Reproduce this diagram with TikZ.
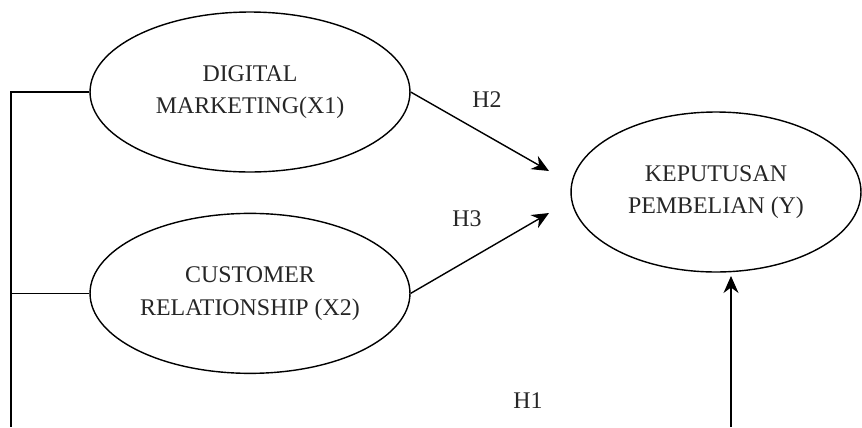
\documentclass[tikz,border=0pt]{standalone}
\usepackage{fontspec}
\setmainfont{Liberation Serif}
\usetikzlibrary{positioning,shapes,arrows.meta}

\begin{document}
\begin{tikzpicture}[x=0.02cm, y=-0.02cm, line width=0.8pt,
  var/.style={draw, ellipse, inner sep=0pt, minimum width=6.4cm, minimum height=3.2cm, align=center, text=black!85, font=\fontsize{13.6}{18.6}\selectfont},
  hyp/.style={text=black!85, font=\fontsize{13.6}{18.6}\selectfont},
  arr/.style={-{Stealth[length=0.34cm, width=0.3cm]}}]
\useasboundingbox (0,0) rectangle (862,427);
\node[var] (dm) at (250,92) {DIGITAL\\MARKETING(X1)};
\node[var, below=0.8cm of dm] (cr) {CUSTOMER\\RELATIONSHIP (X2)};
\node[var, minimum width=5.8cm] (y) at (716,192) {KEPUTUSAN\\PEMBELIAN (Y)};
\coordinate (h2end) at (549,171);
\coordinate (h3end) at (549,213);
\coordinate (h1start) at (731,427);
\coordinate (h1end) at (731,276);
\coordinate (leftend) at (11,427);
\node[hyp] (h2) at (487,100) {H2};
\node[hyp] (h3) at (467,219) {H3};
\node[hyp] (h1) at (528,401) {H1};
\draw[-] (dm.west) -| (leftend);
\draw[-] (cr.west) -- (cr.west -| leftend);
\draw[arr] (dm.east) -- (h2end);
\draw[arr] (cr.east) -- (h3end);
\draw[arr] (h1start) -- (h1end);
\end{tikzpicture}
\end{document}
